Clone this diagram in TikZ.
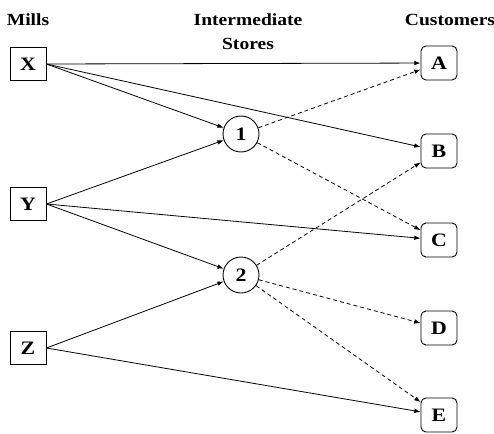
\documentclass[tikz,border=0pt]{standalone}
\usepackage{fontspec}
\setmainfont{Liberation Serif}[FakeStretch=1.15]
\usepackage{tikz}
\usetikzlibrary{arrows.meta,positioning}

\begin{document}
\begin{tikzpicture}[x=1pt,y=-1pt,font=\fontsize{17}{24}\selectfont\bfseries,
  mill/.style={draw,line width=0.9pt,minimum width=36pt,minimum height=33pt,inner sep=0pt,font=\fontsize{19}{20}\selectfont\bfseries},
  cust/.style={draw,line width=0.9pt,rounded corners=5pt,minimum width=36pt,minimum height=34pt,inner sep=0pt,font=\fontsize{19}{20}\selectfont\bfseries},
  store/.style={draw,circle,line width=0.9pt,minimum size=36pt,inner sep=0pt,font=\fontsize{19}{20}\selectfont\bfseries},
  hd/.style={align=center,inner sep=0pt},
  arr/.style={-{Latex[length=2.2mm,width=1.6mm]},line width=0.8pt},
  darr/.style={arr,dashed,dash pattern=on 4pt off 3pt}]
  \useasboundingbox (0,0) rectangle (494,433);
  % headings
  \node[hd] (hm) at (28,20) {Mills};
  \node[hd] (hs) at (248,32) {Intermediate\\Stores};
  \node[hd] (hc) at (450,20) {Customers};
  % mills
  \node[mill] (X) at (28,64) {X};
  \node[mill] (Y) at (28,204) {Y};
  \node[mill] (Z) at (28,348) {Z};
  % stores
  \node[store] (s1) at (241,134) {1};
  \node[store] (s2) at (241,275) {2};
  % customers
  \node[cust] (A) at (439,63) {A};
  \node[cust] (B) at (439,151) {B};
  \node[cust] (C) at (439,240) {C};
  \node[cust] (D) at (439,328) {D};
  \node[cust] (E) at (439,415) {E};
  % shipments
  \draw[arr] (X.east) -- (A); \draw[arr] (X.east) -- (s1); \draw[arr] (X.east) -- (B);
  \draw[arr] (Y.east) -- (s1); \draw[arr] (Y.east) -- (C); \draw[arr] (Y.east) -- (s2);
  \draw[arr] (Z.east) -- (s2); \draw[arr] (Z.east) -- (E);
  \draw[darr] (s1) -- (A); \draw[darr] (s1) -- (C);
  \draw[darr] (s2) -- (B); \draw[darr] (s2) -- (D); \draw[darr] (s2) -- (E);
\end{tikzpicture}
\end{document}
